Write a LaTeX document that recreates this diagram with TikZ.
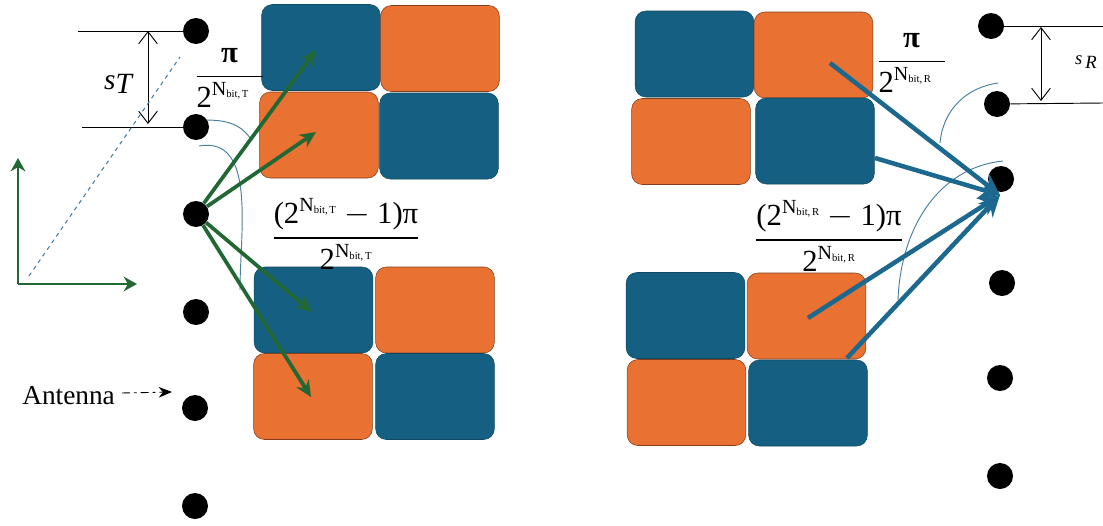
\documentclass[tikz,border=0pt]{standalone}
\usepackage{amsmath}
\usepackage{fontspec}
\setmainfont{Liberation Serif}
\usetikzlibrary{arrows.meta}
\definecolor{cellblue}{RGB}{21,96,130}
\definecolor{cellorange}{RGB}{233,113,50}
\definecolor{beamgreen}{RGB}{34,104,52}
\definecolor{beamblue}{RGB}{28,104,142}
\definecolor{arcblue}{RGB}{70,125,160}
\newcommand{\Nbit}[1]{\text{2}^{\text{\fontsize{15}{15}\selectfont N}\raisebox{-1.5pt}{\fontsize{8}{8}\selectfont bit,\,#1}}}
\newcommand{\Phasefrac}[2]{$\displaystyle\frac{#1}{\Nbit{#2}}$}
\newcommand{\Smallfrac}[1]{$\displaystyle\frac{\makebox[49.5pt]{\textbf{π}}}{\makebox[49.5pt][l]{$\Nbit{#1}$}}$}
\tikzset{
    cell/.style={rectangle, thin, rounded corners=8pt,
                 minimum width=89pt, minimum height=64.5pt, inner sep=0pt},
    bluecell/.style={cell, draw=cellblue!75!black, fill=cellblue},
    orangecell/.style={cell, draw=cellorange!55!black, fill=cellorange},
    dotnode/.style={circle, fill=black, minimum size=19.5pt, inner sep=0pt},
    greenarrow/.style={draw=beamgreen, line width=2.8pt, -{Stealth[length=12pt,width=11pt]}},
    bluearrow/.style={draw=beamblue, line width=3.4pt, -{Stealth[length=16pt,width=15pt]}},
    axisarrow/.style={draw=beamgreen, line width=1.9pt, -{Stealth[length=10pt,width=11pt]}},
    anglearc/.style={draw=arcblue, line width=0.7pt},
    spacing/.style={draw=black, line width=0.7pt},
    gaparrow/.style={spacing, {Straight Barb[length=9pt,width=14pt]}-{Straight Barb[length=9pt,width=14pt]}},
    phase/.style={font=\fontsize{23}{26}\selectfont, inner sep=0pt}
}

\begin{document}
\begin{tikzpicture}[x=0.75pt, y=-0.75pt]
    \useasboundingbox (0,0) rectangle (1103,525);

    % angle marks
    \coordinate (ta) at (204,120);
    \coordinate (tb) at (250,138);
    \coordinate (tc) at (199,146);
    \coordinate (td) at (240,290);
    \coordinate (ra) at (998,83);
    \coordinate (rb) at (940,143);
    \coordinate (rc) at (1003,161);
    \coordinate (rd) at (898,300);
    \draw[anglearc] (ta) to[out=0, in=125] (tb);
    \draw[anglearc] (tc) to[out=10, in=90] (td);
    \draw[anglearc] (ra) to[out=188, in=85] (rb);
    \draw[anglearc] (rc) to[out=186, in=88] (rd);

    % transmit side
    \node[bluecell] (txa) at (321,47.5) {};
    \node[orangecell] (txb) at (440,48.5) {};
    \node[orangecell] (txc) at (319,135) {};
    \node[bluecell] (txd) at (439,136) {};
    \node[bluecell] (txe) at (313.5,310) {};
    \node[orangecell] (txf) at (435,310) {};
    \node[orangecell] (txg) at (313,396.5) {};
    \node[bluecell] (txh) at (435,396.5) {};

    % receive side
    \node[bluecell] (rxa) at (694.5,54) {};
    \node[orangecell] (rxb) at (813.5,55) {};
    \node[orangecell] (rxc) at (691,141.5) {};
    \node[bluecell] (rxd) at (815,141) {};
    \node[bluecell] (rxe) at (685.5,315.5) {};
    \node[orangecell] (rxf) at (806.5,316) {};
    \node[orangecell] (rxg) at (686.5,402.5) {};
    \node[bluecell] (rxh) at (808,403) {};

    \foreach \name/\x/\y in {t1/196/31, t2/196/127, t3/196/214, t4/196/312, t5/195/408, t6/195/506,
                             r1/991/26, r2/997/104, r3/1001/179, r4/1002/283, r5/1000/378, r6/1000/476}
        \node[dotnode] (\name) at (\x,\y) {};

    % element spacing
    \coordinate (tl1) at (78,31);
    \coordinate (tl2) at (82,127);
    \coordinate (rl1) at (1103,26);
    \coordinate (rl2) at (1103,103);
    \coordinate (ts1) at (148,31);
    \coordinate (ts2) at (148,124);
    \coordinate (rs1) at (1041,27);
    \coordinate (rs2) at (1041,101);
    \draw[spacing] (tl1) -- (t1);
    \draw[spacing] (tl2) -- (t2);
    \draw[spacing] (r1) -- (rl1);
    \draw[spacing] (r2) -- (rl2);
    \draw[gaparrow] (ts1) -- (ts2);
    \draw[gaparrow] (rs1) -- (rs2);
    \node[font=\fontsize{22}{24}\selectfont\itshape, inner sep=0pt] (slabelt) at (118,84) {s\raisebox{-3pt}{T}};
    \node[font=\fontsize{14}{16}\selectfont\itshape, inner sep=0pt] (slabelr) at (1086,62) {s\,\raisebox{-3pt}{R}};

    % axes
    \coordinate (origin) at (18,284);
    \coordinate (axisy) at (18,158);
    \coordinate (axisx) at (137,284);
    \coordinate (dasha) at (29,276);
    \coordinate (dashb) at (180,57);
    \draw[arcblue, dashed, line width=0.8pt] (dasha) -- (dashb);
    \draw[axisarrow] (origin) -- (axisy);
    \draw[axisarrow] (origin) -- (axisx);

    % beams
    \coordinate (gtipa) at (316,50);
    \coordinate (gtipb) at (316,132);
    \coordinate (gtipc) at (312,312);
    \coordinate (gtipd) at (311,397);
    \draw[greenarrow] (t3) -- (gtipa);
    \draw[greenarrow] (t3) -- (gtipb);
    \draw[greenarrow] (t3) -- (gtipc);
    \draw[greenarrow] (t3) -- (gtipd);
    \coordinate (rhub) at (1000,195);
    \coordinate (bfroma) at (830,63);
    \coordinate (bfromb) at (875,158);
    \coordinate (bfromc) at (808,318);
    \coordinate (bfromd) at (847,358);
    \draw[bluearrow] (bfroma) -- (rhub);
    \draw[bluearrow] (bfromb) -- (rhub);
    \draw[bluearrow] (bfromc) -- (rhub);
    \draw[bluearrow] (bfromd) -- (rhub);

    % phases
    \node[phase] (phta) at (229.5,78) {\Smallfrac{T}};
    \node[phase] (phtb) at (346,234) {\Phasefrac{\text{(}\Nbit{T}-\text{1)π}}{T}};
    \node[phase] (phra) at (911.5,63) {\Smallfrac{R}};
    \node[phase] (phrb) at (829,236) {\Phasefrac{\text{(}\Nbit{R}-\text{1)π}}{R}};

    % antenna label
    \node[font=\fontsize{20.5}{22}\selectfont, inner sep=0pt, anchor=west] (antlabel) at (22,396) {Antenna};
    \coordinate (antstart) at (122,393);
    \coordinate (antend) at (172,392);
    \draw[draw=black, line width=0.7pt, dash pattern=on 6pt off 3pt on 2pt off 3pt, -{Stealth[length=10pt,width=8pt]}] (antstart) -- (antend);
\end{tikzpicture}
\end{document}
